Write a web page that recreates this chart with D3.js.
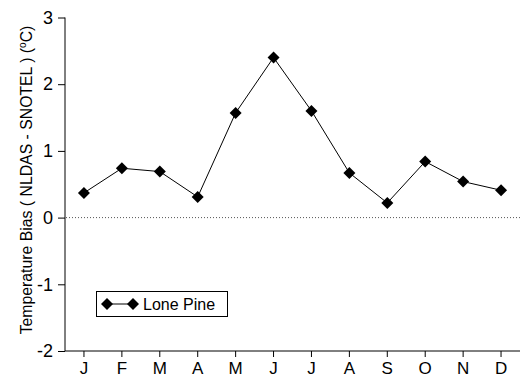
<!DOCTYPE html>
<html>
<head>
<meta charset="utf-8">
<script src="https://cdn.jsdelivr.net/npm/d3@7"></script>
<style>
  body { margin: 0; background: #fff; }
  svg { display: block; font-family: "Liberation Sans", Arial, Helvetica, sans-serif; }
</style>
</head>
<body>
<svg id="chart" width="520" height="378"></svg>
<script>
// Monthly temperature bias, NLDAS minus SNOTEL, at Lone Pine (°C)
const months = ["J", "F", "M", "A", "M", "J", "J", "A", "S", "O", "N", "D"];
const bias = [0.37, 0.74, 0.69, 0.31, 1.57, 2.40, 1.60, 0.67, 0.22, 0.84, 0.54, 0.41];
const yTicks = [-2, -1, 0, 1, 2, 3];
const seriesName = "Lone Pine";

const svg = d3.select("#chart");
const plotLeft = 65, plotRight = 520, plotTop = 17.5, plotBottom = 351;

const x = d3.scaleBand().domain(d3.range(months.length)).range([plotLeft, plotRight]);
const y = d3.scaleLinear().domain([-2, 3]).range([plotBottom, plotTop]);

// y axis (plain hyphen for negative labels)
const yAxis = svg.append("g")
  .attr("transform", `translate(${plotLeft},0)`)
  .call(d3.axisLeft(y).tickValues(yTicks).tickSize(7).tickPadding(5).tickFormat(d => String(d)));
yAxis.select(".domain").attr("d", `M0,${plotTop}V${plotBottom}`).attr("stroke", "#000");
yAxis.selectAll("text").attr("font-size", 18).attr("fill", "#000").attr("font-family", "Liberation Sans, Arial, sans-serif");
yAxis.selectAll("line").attr("stroke", "#000");

// x axis
const xAxis = svg.append("g")
  .attr("transform", `translate(0,${plotBottom})`)
  .call(d3.axisBottom(x).tickSize(6).tickPadding(5).tickFormat(i => months[i]));
xAxis.select(".domain").attr("d", `M${plotLeft},0H${plotRight}`).attr("stroke", "#000");
xAxis.selectAll("text").attr("font-size", 17).attr("fill", "#000").attr("font-family", "Liberation Sans, Arial, sans-serif");
xAxis.selectAll("line").attr("stroke", "#000");

// zero reference line
svg.append("line")
  .attr("x1", plotLeft + 1).attr("x2", plotRight)
  .attr("y1", y(0)).attr("y2", y(0))
  .attr("stroke", "#555").attr("stroke-width", 1)
  .attr("stroke-dasharray", "1,2");

// y axis title
const title = svg.append("text")
  .attr("transform", `translate(32,180) rotate(-90)`)
  .attr("text-anchor", "middle")
  .attr("font-size", 15.8)
  .attr("fill", "#000");
title.append("tspan").text("Temperature Bias ( NLDAS - SNOTEL ) (");
title.append("tspan").attr("font-size", 10).attr("dy", -6).text("o");
title.append("tspan").attr("dy", 6).text("C)");

// series line and markers
const cx = i => x(i) + x.bandwidth() / 2;
svg.append("path")
  .datum(bias)
  .attr("fill", "none")
  .attr("stroke", "#000")
  .attr("stroke-width", 1)
  .attr("d", d3.line().x((d, i) => cx(i)).y(d => y(d)));

const diamond = d3.symbol().type(d3.symbolSquare).size(72);
svg.selectAll(".marker")
  .data(bias)
  .join("path")
  .attr("class", "marker")
  .attr("d", diamond)
  .attr("transform", (d, i) => `translate(${cx(i)},${y(d)}) rotate(45)`)
  .attr("fill", "#000");

// legend
const lg = svg.append("g");
lg.append("rect")
  .attr("x", 96.5).attr("y", 291.5).attr("width", 131).attr("height", 25)
  .attr("fill", "#fff").attr("stroke", "#000");
lg.append("line").attr("x1", 107).attr("x2", 133).attr("y1", 304).attr("y2", 304).attr("stroke", "#000");
[107, 133].forEach(px => {
  lg.append("path").attr("d", diamond).attr("transform", `translate(${px},304) rotate(45)`).attr("fill", "#000");
});
lg.append("text").attr("x", 143).attr("y", 310).attr("font-size", 16).attr("fill", "#000").text(seriesName);
</script>
</body>
</html>
